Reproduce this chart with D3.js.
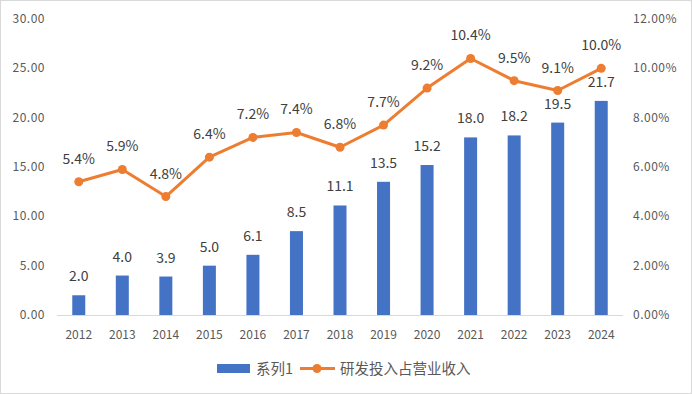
<!DOCTYPE html>
<html><head><meta charset="utf-8">
<script src="https://cdn.jsdelivr.net/npm/d3@7/dist/d3.min.js"></script>
<style>body{margin:0;background:#fff}svg{display:block}</style>
</head><body>
<script>
const years = ["2012","2013","2014","2015","2016","2017","2018","2019","2020","2021","2022","2023","2024"];
const barValues = [2.0,4.0,3.9,5.0,6.1,8.5,11.1,13.5,15.2,18.0,18.2,19.5,21.7];
const lineValues = [5.4,5.9,4.8,6.4,7.2,7.4,6.8,7.7,9.2,10.4,9.5,9.1,10.0];
const leftTicks = [0,5,10,15,20,25,30];
const rightTicks = [0,2,4,6,8,10,12];
const barName = "系列1";
const lineName = "研发投入占营业收入";

const W=692,H=394;
const svg=d3.select("body").append("svg").attr("width",W).attr("height",H);
svg.append("rect").attr("x",0.5).attr("y",0.5).attr("width",W-1).attr("height",H-1).attr("fill","#fff").attr("stroke","#d9d9d9");
const font="'Noto Sans CJK SC','DejaVu Sans',sans-serif";
const x=d3.scaleBand().domain(years).range([57,623]);
const yL=d3.scaleLinear().domain([0,30]).range([315,19]);
const yR=d3.scaleLinear().domain([0,12]).range([315,19]);
const txt="#595959";

svg.append("g").selectAll("text").data(leftTicks).join("text")
 .attr("x",45).attr("y",d=>yL(d)+4).attr("text-anchor","end")
 .attr("font-family",font).attr("font-size",12).attr("fill",txt).attr("letter-spacing",0.5)
 .text(d=>d.toFixed(2));
svg.append("g").selectAll("text").data(rightTicks).join("text")
 .attr("x",633).attr("y",d=>yR(d)+4).attr("text-anchor","start")
 .attr("font-family",font).attr("font-size",12).attr("fill",txt).attr("letter-spacing",0.5)
 .text(d=>d.toFixed(2)+"%");
svg.append("line").attr("x1",57).attr("x2",623).attr("y1",315.5).attr("y2",315.5).attr("stroke","#d9d9d9");
svg.append("g").selectAll("text").data(years).join("text")
 .attr("x",d=>x(d)+x.bandwidth()/2).attr("y",339).attr("text-anchor","middle")
 .attr("font-family",font).attr("font-size",12).attr("fill",txt).text(d=>d);

const bw=13;
svg.append("g").selectAll("rect").data(barValues).join("rect")
 .attr("x",(d,i)=>x(years[i])+x.bandwidth()/2-bw/2).attr("width",bw)
 .attr("y",d=>yL(d)).attr("height",d=>yL(0)-yL(d)).attr("fill","#4472C4");
svg.append("g").selectAll("text").data(barValues).join("text")
 .attr("x",(d,i)=>x(years[i])+x.bandwidth()/2).attr("y",d=>yL(d)-14)
 .attr("text-anchor","middle").attr("font-family",font).attr("font-size",14).attr("fill","#404040")
 .text(d=>d.toFixed(1));

const line=d3.line().x((d,i)=>x(years[i])+x.bandwidth()/2).y(d=>yR(d));
svg.append("path").datum(lineValues).attr("d",line).attr("fill","none").attr("stroke","#ED7D31").attr("stroke-width",3).attr("stroke-linejoin","round");
svg.append("g").selectAll("circle").data(lineValues).join("circle")
 .attr("cx",(d,i)=>x(years[i])+x.bandwidth()/2).attr("cy",d=>yR(d)).attr("r",4.5).attr("fill","#ED7D31");
svg.append("g").selectAll("text").data(lineValues).join("text")
 .attr("x",(d,i)=>x(years[i])+x.bandwidth()/2).attr("y",d=>yR(d)-18)
 .attr("text-anchor","middle").attr("font-family",font).attr("font-size",14).attr("fill","#404040")
 .text(d=>d.toFixed(1)+"%");

const lg=svg.append("g");
lg.append("rect").attr("x",217).attr("y",364).attr("width",33).attr("height",9).attr("fill","#4472C4");
lg.append("text").attr("x",256).attr("y",374).attr("font-family",font).attr("font-size",14.5).attr("fill",txt).text(barName);
lg.append("line").attr("x1",300).attr("x2",335).attr("y1",368.5).attr("y2",368.5).attr("stroke","#ED7D31").attr("stroke-width",3);
lg.append("circle").attr("cx",317).attr("cy",368.5).attr("r",4.5).attr("fill","#ED7D31");
lg.append("text").attr("x",340).attr("y",374).attr("font-family",font).attr("font-size",14.5).attr("fill",txt).text(lineName);
</script>
</body></html>
